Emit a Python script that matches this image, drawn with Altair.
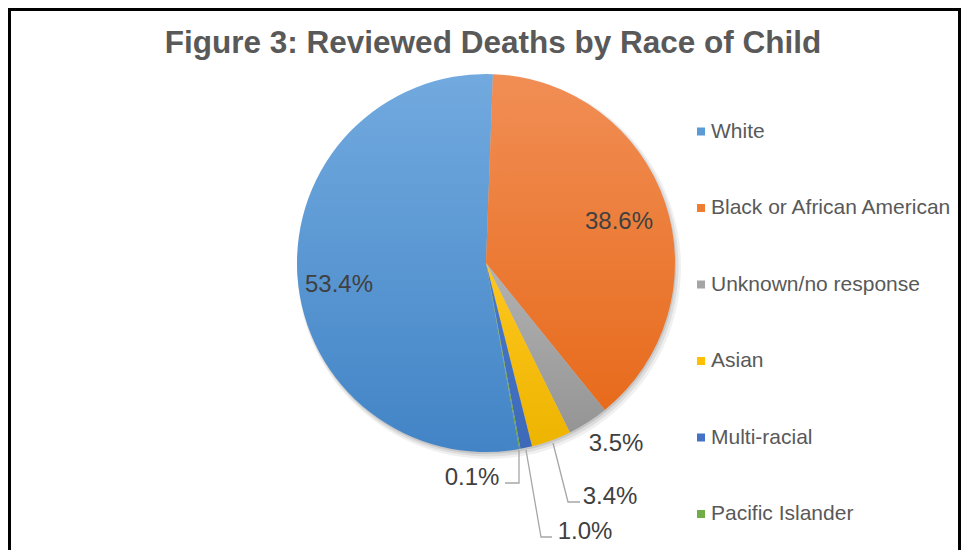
import math
import altair as alt
import pandas as pd

# ---- data ----
races = ["White", "Black or African American", "Unknown/no response",
         "Asian", "Multi-racial", "Pacific Islander"]
percents = [53.4, 38.6, 3.5, 3.4, 1.0, 0.1]
# clockwise order of the slices starting at 12 o'clock
pie_order = ["Black or African American", "Unknown/no response", "Asian",
             "Multi-racial", "Pacific Islander", "White"]

# ---- styling ----
base_colors = ["#5B9BD5", "#ED7D31", "#A5A5A5", "#FFC000", "#4472C4", "#70AD47"]
top_colors = ["#72AADF", "#F18E55", "#B2B2B2", "#FFC71F", "#4A7ACB", "#79B44F"]
bot_colors = ["#4284C6", "#E76B1C", "#959595", "#EDB400", "#3D69B8", "#66A03F"]

W, H = 953, 542
CX, CY, R = 478, 255, 189           # pie centre / radius in chart pixels
OFFSET = math.radians(2.1)          # first-slice angle

# label placement (chart pixels) — annotation layout
label_pos = {
    "White": (331, 277),
    "Black or African American": (611, 214),
    "Unknown/no response": (608, 436),
    "Asian": (602, 489),
    "Multi-racial": (577, 524),
    "Pacific Islander": (464, 470),
}
# leader line bends (chart pixels) for the small outside labels
leaders = {
    "Asian": [(545, 435), (560, 494), (572, 494)],
    "Multi-racial": [(518, 442), (533, 529), (544, 529)],
    "Pacific Islander": [(511, 442), (511, 475), (497, 475)],
}

# ---- tables built from the arrays ----
val = dict(zip(races, percents))
rows, cum = [], 0.0
for r in pie_order:
    rows.append({"race": r, "start": cum, "end": cum + val[r]})
    cum += val[r]
pie_df = pd.DataFrame(rows)

lab_df = pd.DataFrame([
    {"race": r, "text": f"{p:.1f}%", "lx": label_pos[r][0], "ly": label_pos[r][1]}
    for r, p in zip(races, percents)
])

lead_rows = []
for r, pts in leaders.items():
    for i, (x, y) in enumerate(pts):
        lead_rows.append({"grp": r, "seq": i, "x": x, "y": y})
lead_df = pd.DataFrame(lead_rows)

leg_df = pd.DataFrame([
    {"race": r, "i": i, "color": c} for i, (r, c) in enumerate(zip(races, base_colors))
])

theta_scale = alt.Scale(domain=[0, cum], range=[OFFSET, OFFSET + 2 * math.pi])

layers = []

# soft shadow under the pie
for dx, dy, extra, op in [(3, 4, 3, 0.06), (2, 3, 1.5, 0.08), (1, 2, 0, 0.10)]:
    layers.append(
        alt.Chart(pd.DataFrame({"a": [0]})).mark_arc(
            theta=0, theta2=2 * math.pi, outerRadius=R + extra,
            color="#000000", opacity=op
        ).encode(x=alt.value(CX + dx), y=alt.value(CY + dy))
    )

# one layer per slice so each slice gets its own vertical gradient
for r, tc, bc in zip(races, top_colors, bot_colors):
    grad = alt.LinearGradient(
        gradient="linear", x1=0, x2=0, y1=0, y2=1,
        stops=[alt.GradientStop(color=tc, offset=0),
               alt.GradientStop(color=bc, offset=1)],
    )
    layers.append(
        alt.Chart(pie_df).mark_arc(fill=grad, outerRadius=R, stroke=None)
        .encode(
            theta=alt.Theta("start:Q", scale=theta_scale),
            theta2="end:Q",
            x=alt.value(CX), y=alt.value(CY),
        )
        .transform_filter(alt.datum.race == r)
    )

# leader lines
layers.append(
    alt.Chart(lead_df).mark_line(color="#A6A6A6", strokeWidth=1.3)
    .encode(
        x=alt.X("x:Q", scale=None, axis=None), y=alt.Y("y:Q", scale=None, axis=None),
        detail="grp:N", order="seq:Q",
    )
)

# percentage labels
layers.append(
    alt.Chart(lab_df).mark_text(
        font="Liberation Sans", fontSize=24, color="#404040",
        align="center", baseline="middle",
    ).encode(
        x=alt.X("lx:Q", scale=None, axis=None), y=alt.Y("ly:Q", scale=None, axis=None),
        text="text:N",
    )
)

# legend (manual, to the right of the pie)
LEG_X, LEG_Y0, LEG_STEP = 693, 123.5, 76.5
leg_y = alt.Y("i:Q", axis=None,
              scale=alt.Scale(domain=[0, 5], range=[LEG_Y0, LEG_Y0 + 5 * LEG_STEP]))
layers.append(
    alt.Chart(leg_df).mark_square(size=64, opacity=1)
    .encode(x=alt.value(LEG_X), y=leg_y, color=alt.Color("color:N", scale=None))
)
layers.append(
    alt.Chart(leg_df).mark_text(
        font="Liberation Sans", fontSize=21, color="#595959",
        align="left", baseline="middle",
    ).encode(x=alt.value(LEG_X + 10), y=leg_y, text="race:N")
)

# title
layers.append(
    alt.Chart(pd.DataFrame({"t": ["Figure 3: Reviewed Deaths by Race of Child"]}))
    .mark_text(font="Liberation Sans", fontSize=31.5, fontWeight="bold",
               color="#595959", align="center", baseline="middle")
    .encode(x=alt.value(485), y=alt.value(36), text="t:N")
)

# outer frame
layers.append(
    alt.Chart(pd.DataFrame({"a": [0]})).mark_rect(
        fillOpacity=0, stroke="#000000", strokeWidth=3
    ).encode(x=alt.value(1.5), x2=alt.value(W - 1.5), y=alt.value(1.5), y2=alt.value(H + 40))
)

chart = (
    alt.layer(*layers)
    .properties(width=W, height=H, padding=0, autosize=alt.AutoSizeParams(type="none"))
    .configure_view(stroke=None)
)

chart.save("out.html", embed_options={"renderer": "svg", "actions": False})
